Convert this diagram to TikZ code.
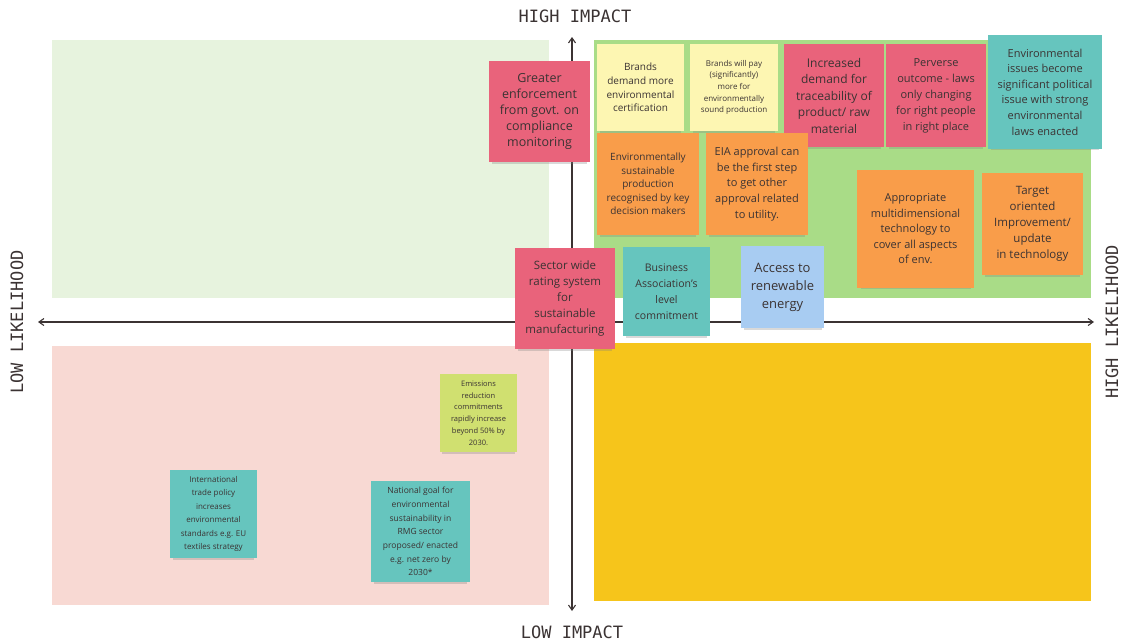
\documentclass[tikz,border=0pt]{standalone}
\usepackage{fontspec}
\setmainfont{Open Sans}
\newfontfamily\axisfont{DejaVu Sans Mono}
\usepackage{xcolor}
\usepackage{tikz}
\usetikzlibrary{positioning,arrows.meta,shadows}

\definecolor{notered}{HTML}{E9637B}
\definecolor{noteteal}{HTML}{66C5BE}
\definecolor{noteorange}{HTML}{F99D4A}
\definecolor{notecream}{HTML}{FDF6B2}
\definecolor{noteblue}{HTML}{A8CCF2}
\definecolor{notelime}{HTML}{D0E070}
\definecolor{quadpale}{HTML}{E7F3DE}
\definecolor{quadpink}{HTML}{F8D9D3}
\definecolor{quadgreen}{HTML}{A9DC87}
\definecolor{quadyellow}{HTML}{F6C51B}
\definecolor{inktext}{HTML}{3B3333}

\begin{document}
\begin{tikzpicture}[x=1pt, y=-1pt,
    note/.style={rectangle, align=center, inner sep=2pt, text=inktext,
        drop shadow={shadow xshift=0pt, shadow yshift=-5pt, shadow scale=0.94, opacity=0.3}},
    rednote/.style={note, fill=notered},
    tealnote/.style={note, fill=noteteal},
    orangenote/.style={note, fill=noteorange},
    creamnote/.style={note, fill=notecream},
    bluenote/.style={note, fill=noteblue},
    limenote/.style={note, fill=notelime},
    axislabel/.style={font=\axisfont\fontsize{17}{20}\selectfont, text=inktext},
    axisline/.style={draw=inktext, line width=1.1pt, {Straight Barb[length=5pt,width=7pt]}-{Straight Barb[length=5pt,width=7pt]}}]
    \useasboundingbox (0,0) rectangle (1123,643);

    % quadrants
    \fill[quadpale] (52,40) rectangle (549,298);
    \fill[quadpink] (52,346) rectangle (549,605);
    \fill[quadgreen] (594,40) rectangle (1091,298);
    \fill[quadyellow] (594,343) rectangle (1091,601);

    % axes
    \coordinate (top) at (572,37);
    \coordinate (bottom) at (572,611);
    \coordinate (left) at (38,322);
    \coordinate (right) at (1094,322);
    \draw[axisline] (bottom) -- (top);
    \draw[axisline] (left) -- (right);

    \node[axislabel] (highimpact) at (575,16) {HIGH IMPACT};
    \node[axislabel] (lowimpact) at (572,632) {LOW IMPACT};
    \node[axislabel, rotate=90] (lowlike) at (17,322) {LOW LIKELIHOOD};
    \node[axislabel, rotate=90] (highlike) at (1112,322) {HIGH LIKELIHOOD};

    % high impact notes
    \node[rednote, minimum width=101, minimum height=101, font=\fontsize{12.5}{16}\selectfont] (greater) at (539.5,111.5)
        {Greater\\enforcement\\from govt. on\\compliance\\monitoring};
    \node[creamnote, minimum width=87, minimum height=87, font=\fontsize{10}{13.7}\selectfont] (brandsdemand) at (640.5,87.5)
        {Brands\\demand more\\environmental\\certification};
    \node[creamnote, minimum width=88, minimum height=87, font=\fontsize{8}{11.7}\selectfont] (brandspay) at (734,87.5)
        {Brands will pay\\(significantly)\\more for\\environmentally\\sound production};
    \node[rednote, minimum width=100, minimum height=103, font=\fontsize{12}{16.5}\selectfont] (tracing) at (834,95.5)
        {Increased\\demand for\\traceability of\\product/ raw\\material};
    \node[rednote, minimum width=100, minimum height=103, font=\fontsize{11}{16}\selectfont] (perverse) at (936,95.5)
        {Perverse\\outcome - laws\\only changing\\for right people\\in right place};
    \node[tealnote, minimum width=114, minimum height=114, font=\fontsize{11}{15.6}\selectfont] (politics) at (1045,92)
        {Environmental\\issues become\\significant political\\issue with strong\\environmental\\laws enacted};
    \node[orangenote, minimum width=102, minimum height=102, font=\fontsize{10}{13.5}\selectfont] (esp) at (648,184)
        {Environmentally\\sustainable\\production\\recognised by key\\decision makers};
    \node[orangenote, minimum width=102, minimum height=102, font=\fontsize{11}{15.7}\selectfont] (eia) at (757,184)
        {EIA approval can\\be the first step\\to get other\\approval related\\to utility.};
    \node[orangenote, minimum width=117, minimum height=118, font=\fontsize{11}{15.5}\selectfont] (multidim) at (915.5,229)
        {Appropriate\\multidimensional\\technology to\\cover all aspects\\of env.};
    \node[orangenote, minimum width=101, minimum height=102, font=\fontsize{11.5}{16}\selectfont] (target) at (1032.5,224)
        {Target\\oriented\\Improvement/\\update\\in technology};

    % on the axis
    \node[rednote, minimum width=100, minimum height=101, font=\fontsize{11.5}{16}\selectfont] (rating) at (565,298.5)
        {Sector wide\\rating system\\for\\sustainable\\manufacturing};
    \node[tealnote, minimum width=87, minimum height=89, font=\fontsize{10.5}{16}\selectfont] (business) at (666.5,291.5)
        {Business\\Association's\\level\\commitment};
    \node[bluenote, minimum width=83, minimum height=82, font=\fontsize{13}{18}\selectfont] (renewable) at (782.5,287)
        {Access to\\renewable\\energy};

    % low impact notes
    \node[limenote, minimum width=77, minimum height=78, font=\fontsize{7.5}{11.8}\selectfont] (emissions) at (478.5,413)
        {Emissions\\reduction\\commitments\\rapidly increase\\beyond 50\% by\\2030.};
    \node[tealnote, minimum width=87, minimum height=88, font=\fontsize{8}{13.4}\selectfont] (trade) at (213.5,514)
        {International\\trade policy\\increases\\environmental\\standards e.g. EU\\textiles strategy};
    \node[tealnote, minimum width=99, minimum height=101, font=\fontsize{8.5}{13.7}\selectfont] (national) at (420.5,531.5)
        {National goal for\\environmental\\sustainability in\\RMG sector\\proposed/ enacted\\e.g. net zero by\\2030*};
\end{tikzpicture}
\end{document}
